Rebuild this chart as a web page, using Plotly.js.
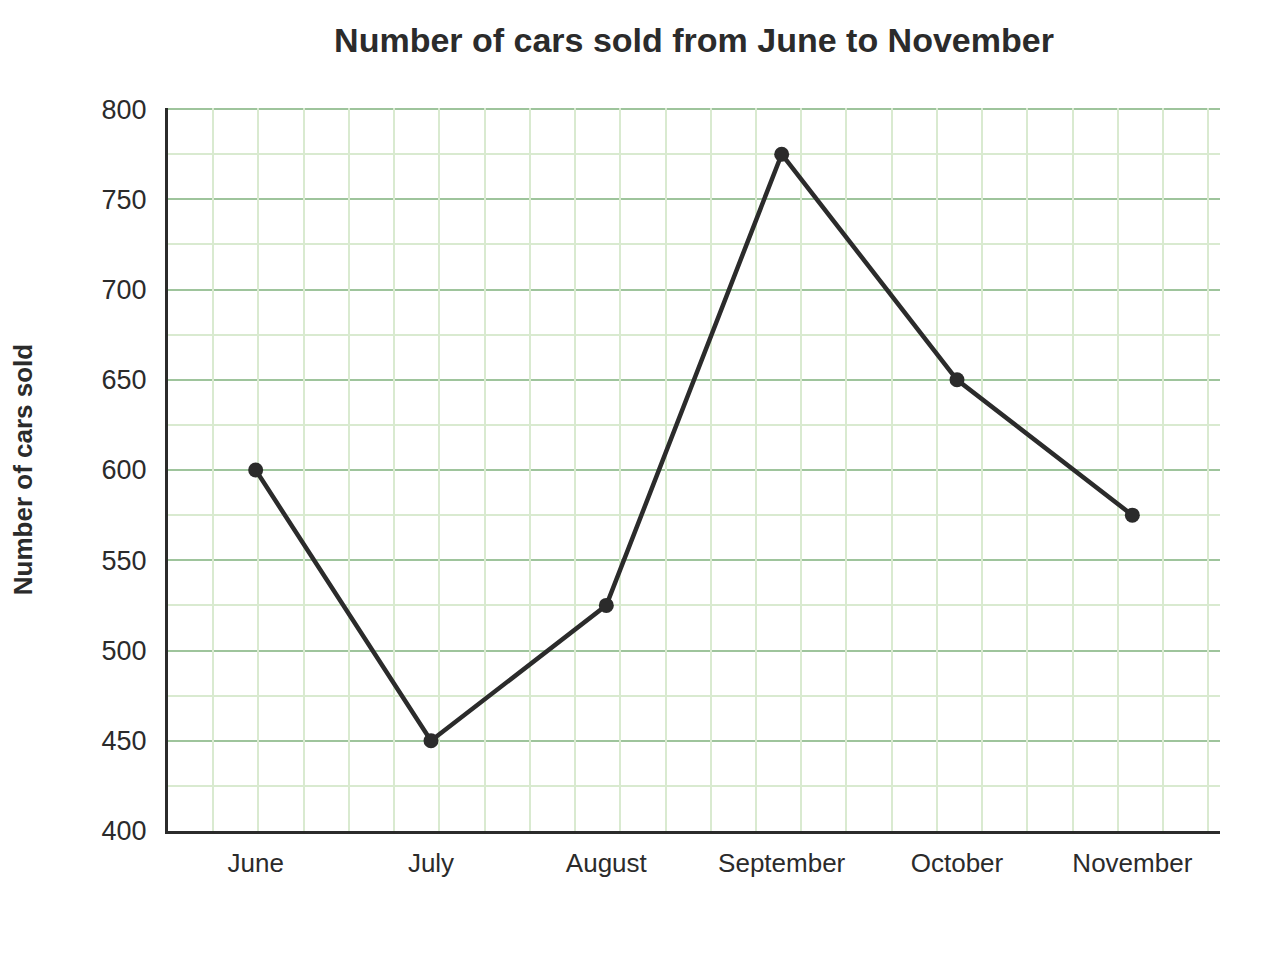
<!DOCTYPE html>
<html>
<head>
<meta charset="utf-8">
<script src="https://cdn.plot.ly/plotly-3.0.1.min.js"></script>
<style>
  html, body { margin: 0; padding: 0; background: #ffffff; }
  #plot { width: 1280px; height: 980px; }
</style>
</head>
<body>
<div id="plot"></div>
<script>
// cars sold per month
var months = ['June', 'July', 'August', 'September', 'October', 'November'];
var carsSold = [600, 450, 525, 775, 650, 575];

var ink = '#2b2b2b';
var majorGreen = 'rgb(158,196,156)';
var minorGreen = 'rgb(217,234,208)';

var traceCars = {
  x: months,
  y: carsSold,
  type: 'scatter',
  mode: 'lines+markers',
  line: { color: ink, width: 4.5 },
  marker: { color: ink, size: 15 },
  hoverinfo: 'x+y'
};

// empty trace so the plain x2 axis (vertical grid) gets drawn
var traceGrid = {
  x: [],
  y: [],
  xaxis: 'x2',
  type: 'scatter',
  mode: 'lines',
  hoverinfo: 'skip'
};

var layout = {
  width: 1280,
  height: 980,
  showlegend: false,
  paper_bgcolor: '#ffffff',
  plot_bgcolor: '#ffffff',
  margin: { l: 168, r: 60, t: 108, b: 149, autoexpand: false },
  font: { family: 'Liberation Sans, Arial, sans-serif', color: ink },
  title: {
    text: '<b>Number of cars sold from June to November</b>',
    font: { size: 34, color: ink },
    x: 0.5421875,
    xanchor: 'center',
    y: 0.959,
    yanchor: 'middle',
    yref: 'container'
  },
  xaxis: {
    type: 'category',
    range: [-0.5, 5.5],
    showgrid: false,
    zeroline: false,
    showline: true,
    linecolor: ink,
    linewidth: 3,
    ticks: '',
    ticklabelstandoff: 7,
    tickfont: { size: 26, color: ink },
    fixedrange: true
  },
  xaxis2: {
    overlaying: 'x',
    range: [0, 23.26],
    dtick: 1,
    showgrid: true,
    gridcolor: minorGreen,
    gridwidth: 2,
    zeroline: false,
    showline: false,
    showticklabels: false,
    ticks: '',
    fixedrange: true
  },
  yaxis: {
    range: [400, 800.6],
    tick0: 400,
    dtick: 50,
    showgrid: true,
    gridcolor: majorGreen,
    gridwidth: 2,
    minor: { dtick: 25, showgrid: true, gridcolor: minorGreen, gridwidth: 2 },
    zeroline: false,
    showline: true,
    linecolor: ink,
    linewidth: 3,
    ticks: '',
    ticklabelstandoff: 13,
    tickfont: { size: 27, color: ink },
    title: {
      text: '<b>Number of cars sold</b>',
      font: { size: 26, color: ink },
      standoff: 62
    },
    fixedrange: true
  }
};

Plotly.newPlot('plot', [traceGrid, traceCars], layout, { displayModeBar: false, staticPlot: true });
</script>
</body>
</html>
